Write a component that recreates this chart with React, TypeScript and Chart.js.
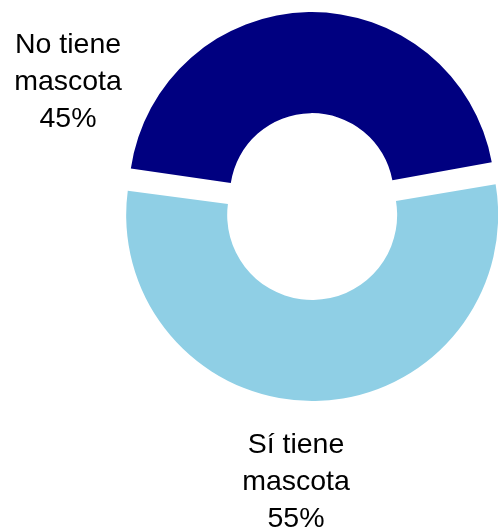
import React, { useEffect, useRef } from "react";
import { Chart, registerables } from "chart.js";

Chart.register(...registerables);

const categories = ["No tiene mascota", "Sí tiene mascota"];
const labelLines = [
  ["No tiene", "mascota"],
  ["Sí tiene", "mascota"],
];
const values = [45, 55];
const colors = ["#000080", "#8FCFE5"];
// label anchor offsets relative to the doughnut centre (layout only)
const labelOffsets = [
  { dx: -244, dy: -152 },
  { dx: -16, dy: 248 },
];

const labelPlugin = {
  id: "sliceLabels",
  afterDraw(chart: any) {
    const meta = chart.getDatasetMeta(0);
    const ctx = chart.ctx;
    const total = values.reduce((a, b) => a + b, 0);
    ctx.save();
    ctx.fillStyle = "#000000";
    ctx.font = '28.5px "Liberation Sans", Arial, sans-serif';
    ctx.textAlign = "center";
    ctx.textBaseline = "alphabetic";
    const lineH = 37;
    meta.data.forEach((arc: any, i: number) => {
      const cx = arc.x + labelOffsets[i].dx;
      const cy = arc.y + labelOffsets[i].dy;
      const lines = [...labelLines[i], Math.round((values[i] / total) * 100) + "%"];
      lines.forEach((t, j) => ctx.fillText(t, cx, cy + j * lineH));
    });
    ctx.restore();
  },
};

export default function App() {
  const ref = useRef<HTMLCanvasElement | null>(null);
  useEffect(() => {
    if (!ref.current) return;
    const chart = new Chart(ref.current, {
      type: "doughnut",
      data: {
        labels: categories,
        datasets: [
          {
            data: values,
            backgroundColor: colors,
            borderWidth: 0,
            offset: 40,
            hoverOffset: 0,
          },
        ],
      },
      options: {
        responsive: false,
        animation: false,
        rotation: -82,
        radius: 176,
        cutout: "42.6%",
        layout: { padding: { left: 126, right: 0, top: 0, bottom: 119 } },
        plugins: {
          legend: { display: false },
          tooltip: { enabled: false },
        },
        events: [],
      },
      plugins: [labelPlugin],
    });
    return () => chart.destroy();
  }, []);
  return (
    <div style={{ position: "fixed", left: 0, top: 0, width: 498, height: 529, background: "#fff" }}>
      <canvas ref={ref} width={498} height={529} style={{ display: "block" }} />
    </div>
  );
}
